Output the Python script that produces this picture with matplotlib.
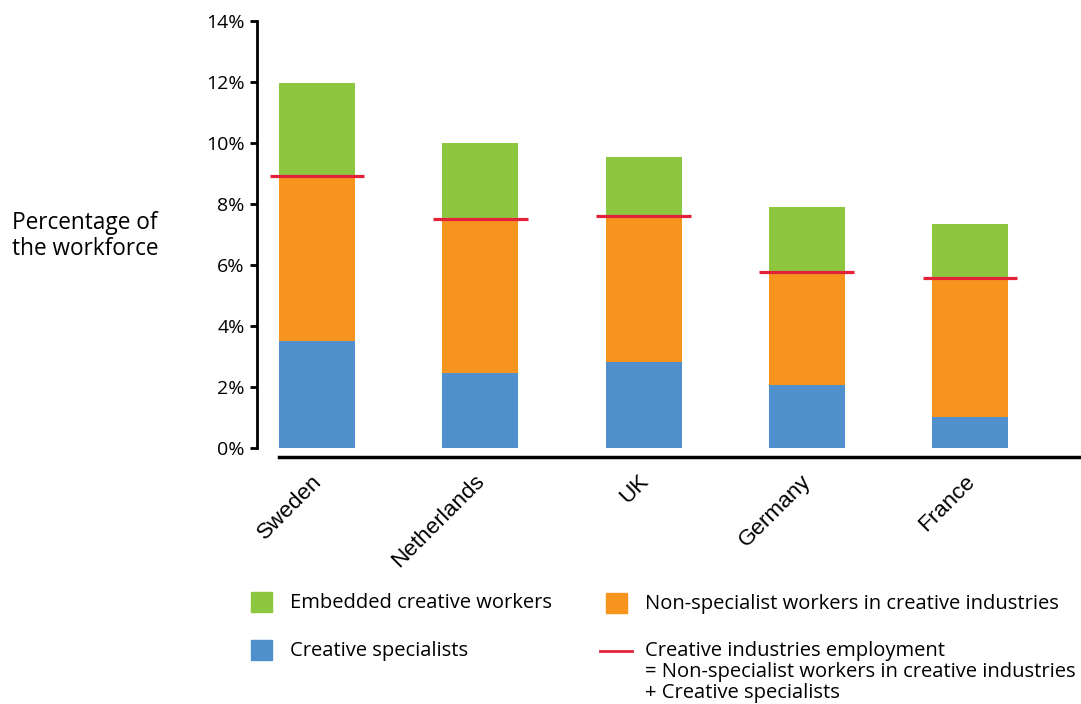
import matplotlib.pyplot as plt
from matplotlib.patches import Rectangle
from matplotlib.lines import Line2D
from matplotlib.transforms import ScaledTranslation

plt.rcParams['font.family'] = ['Open Sans', 'DejaVu Sans']

countries = ['Sweden', 'Netherlands', 'UK', 'Germany', 'France']
specialists = [3.52, 2.47, 2.83, 2.07, 1.03]
non_specialist = [5.39, 5.03, 4.78, 3.69, 4.55]
embedded = [3.06, 2.50, 1.93, 2.14, 1.76]
ci_employment = [s + n for s, n in zip(specialists, non_specialist)]

green = '#8dc63f'
orange = '#f7941e'
blue = '#4f90cd'
red = '#e3223a'

fig = plt.figure(figsize=(10.81, 7.04), dpi=100)
ax = fig.add_axes([257 / 1081, 256 / 704, 824 / 1081, 427 / 704])

# spines first (set_position resets the ticks)
for s in ['top', 'right']:
    ax.spines[s].set_visible(False)
ax.spines['left'].set_linewidth(2)
ax.spines['bottom'].set_linewidth(2.5)
ax.spines['bottom'].set_position(('outward', 6.5))

x = list(range(len(countries)))
w = 0.466
ax.bar(x, specialists, w, color=blue)
ax.bar(x, non_specialist, w, bottom=specialists, color=orange)
ax.bar(x, embedded, w, bottom=ci_employment, color=green)
ax.hlines(ci_employment, [i - 0.29 for i in x], [i + 0.29 for i in x],
          color=red, linewidth=2.3)

ax.set_xlim(-0.368, 4.68)
ax.set_ylim(0, 14)
ax.spines['bottom'].set_bounds(-0.233, 4.68)
ax.set_yticks(range(0, 15, 2))
ax.set_yticklabels([f'{v}%' for v in range(0, 15, 2)], fontsize=14)
ax.tick_params(axis='y', length=5, width=2, pad=4)

ax.set_xticks(x)
ax.set_xticklabels(countries, rotation=45, ha='right', va='top', rotation_mode='anchor',
                   fontsize=16.2, family=['Liberation Sans', 'DejaVu Sans'])
ax.tick_params(axis='x', length=0, pad=10)
shift = ScaledTranslation(-6 / 100, 0, fig.dpi_scale_trans)
for lab in ax.get_xticklabels():
    lab.set_transform(lab.get_transform() + shift)

fig.text(12 / 1081, 1 - 236 / 704, 'Percentage of\nthe workforce', fontsize=16.3,
         ha='left', va='center', linespacing=1.15)

# legend
def square(px, py, color):
    fig.add_artist(Rectangle((px / 1081, 1 - (py + 20) / 704), 21 / 1081, 20 / 704,
                             transform=fig.transFigure, color=color))

square(251, 592, green)
square(251, 640, blue)
square(606, 593, orange)
fig.add_artist(Line2D([600 / 1081, 632 / 1081], [1 - 651 / 704] * 2,
                      transform=fig.transFigure, color=red, linewidth=2))
fs = 14.5
fig.text(290 / 1081, 1 - 603 / 704, 'Embedded creative workers', fontsize=fs, va='center')
fig.text(290 / 1081, 1 - 651 / 704, 'Creative specialists', fontsize=fs, va='center')
fig.text(645 / 1081, 1 - 604 / 704, 'Non-specialist workers in creative industries',
         fontsize=fs, va='center')
fig.text(645 / 1081, 1 - 641 / 704,
         'Creative industries employment\n= Non-specialist workers in creative industries\n+ Creative specialists',
         fontsize=fs, va='top', linespacing=1.08)

fig.savefig('out.png', dpi=100)
